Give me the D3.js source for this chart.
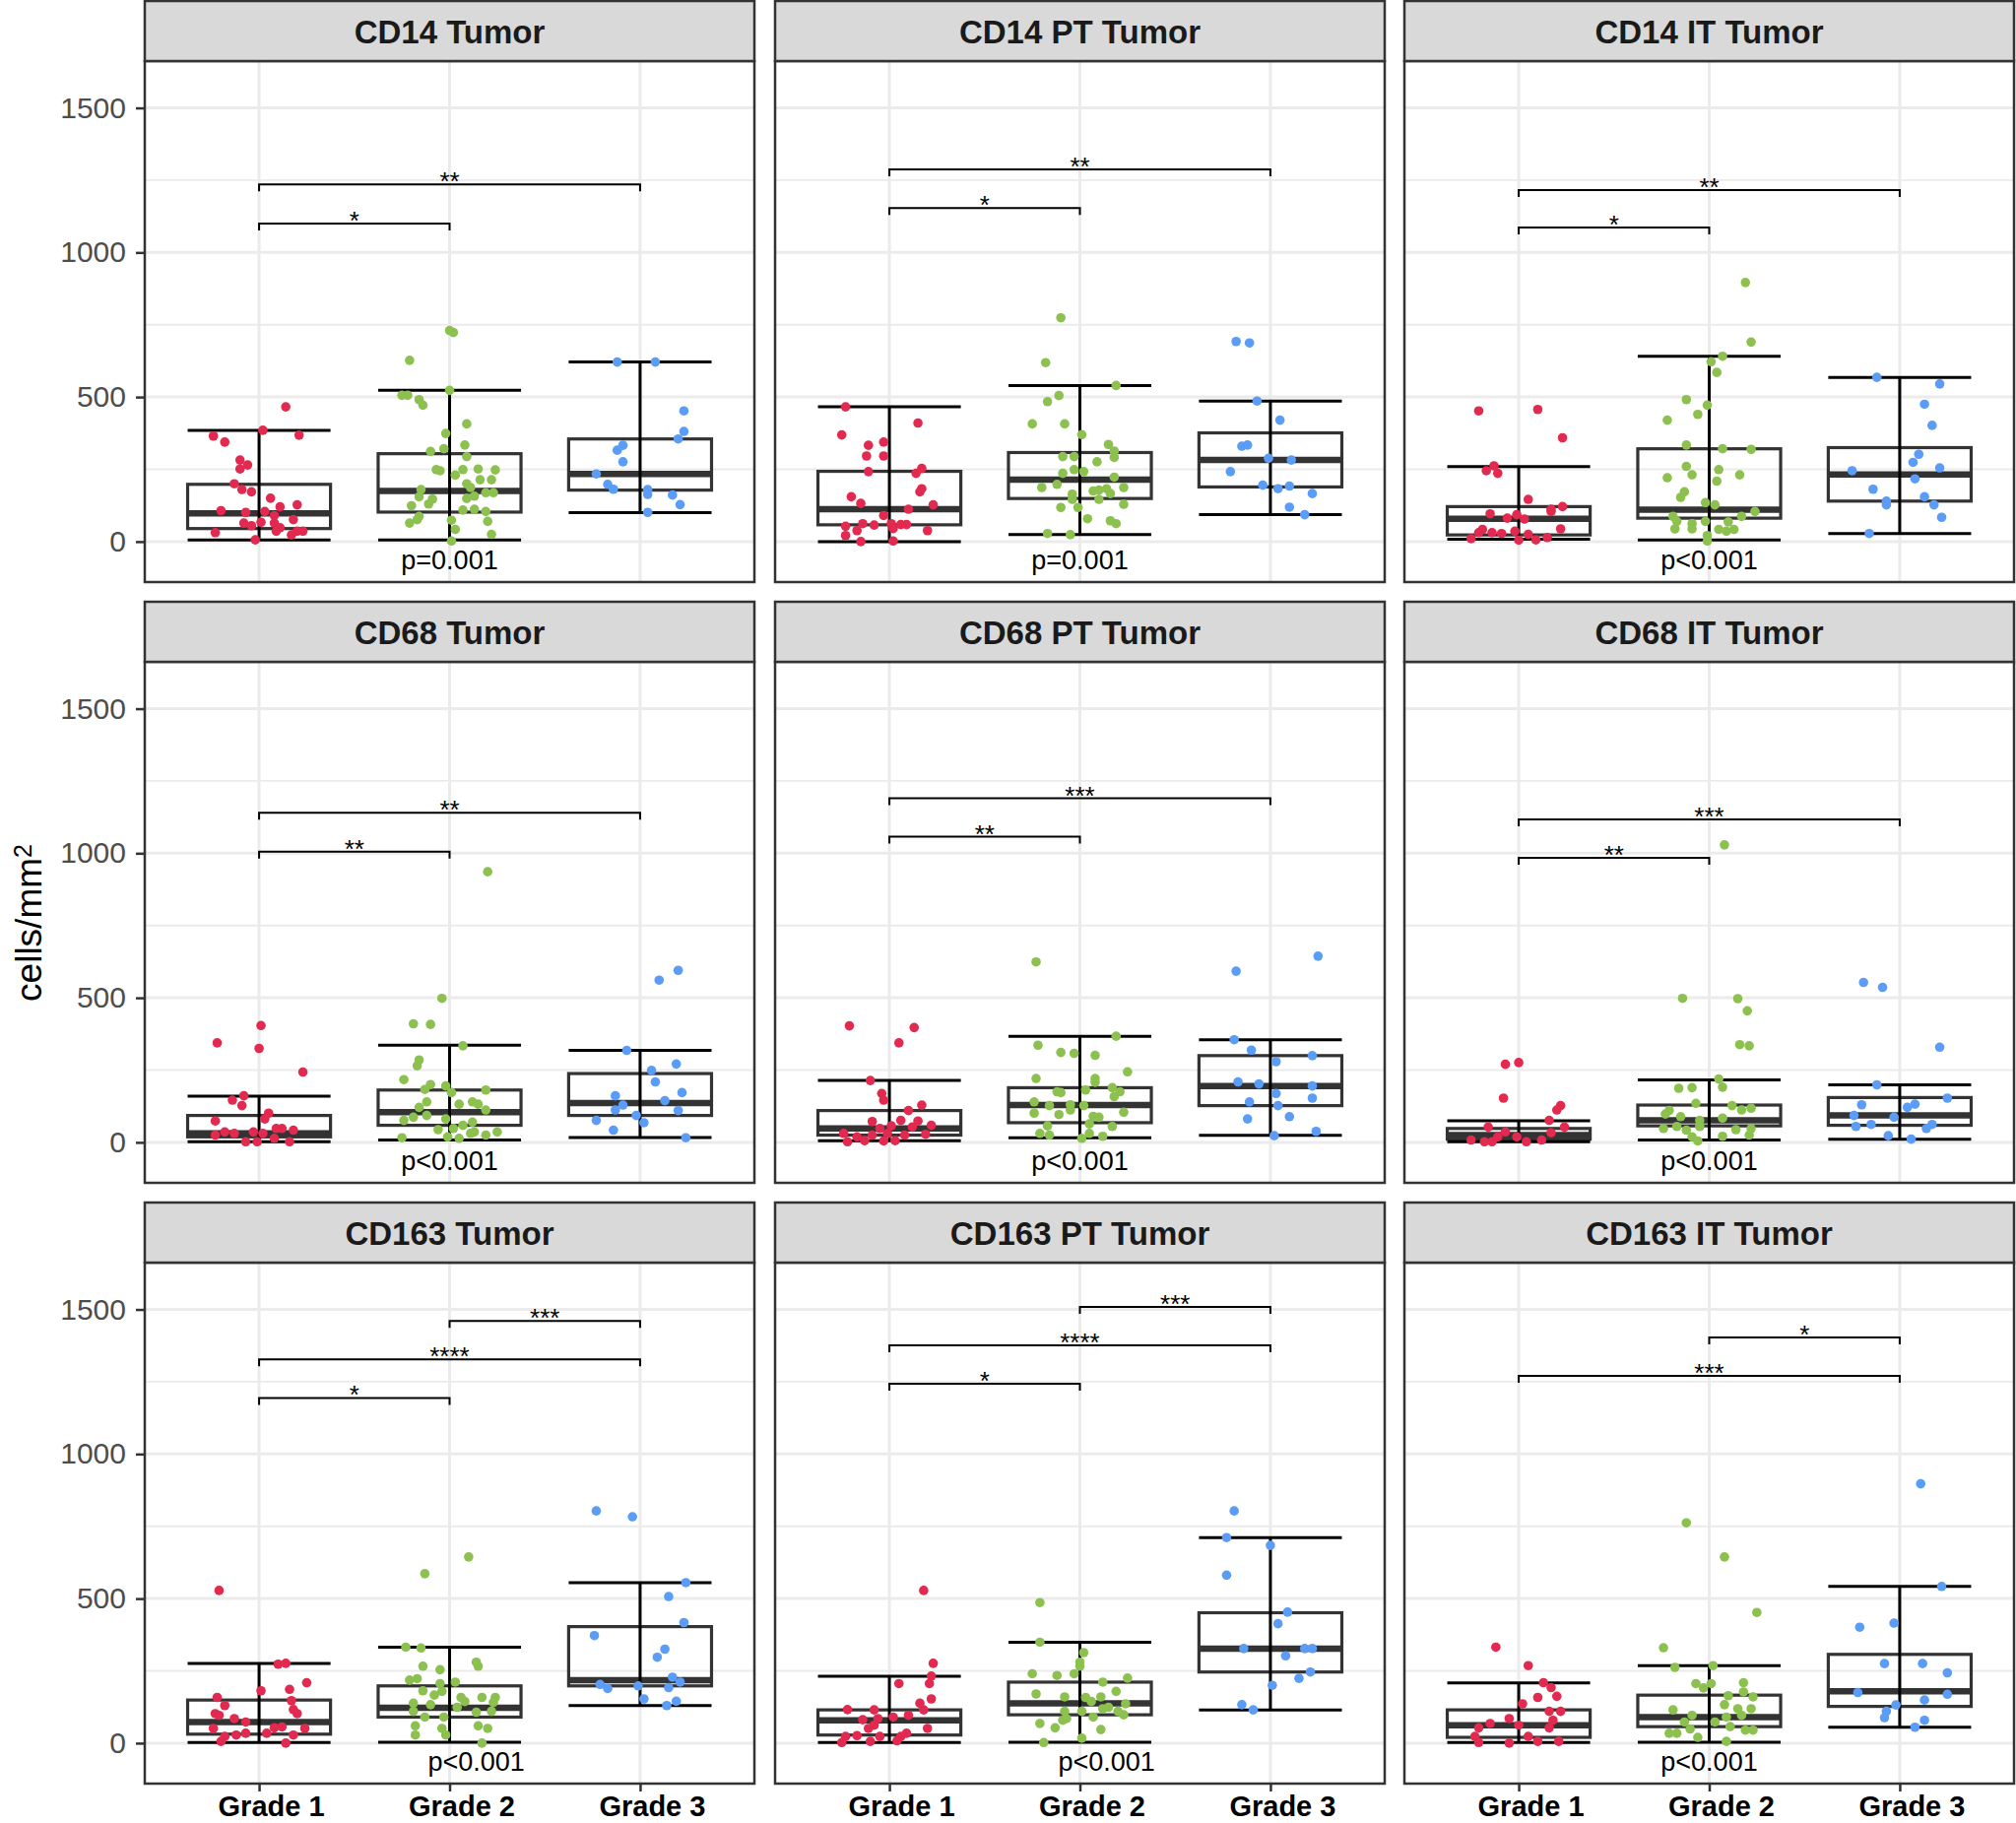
<!DOCTYPE html>
<html>
<head>
<meta charset="utf-8">
<script src="https://cdn.jsdelivr.net/npm/d3@7"></script>
<style>
  body { margin: 0; background: #fff; }
</style>
</head>
<body>
<script>
// values
var grades = ["Grade 1", "Grade 2", "Grade 3"]
var yTicks = [0, 500, 1000, 1500]
var yMinor = [250, 750, 1250]
var panelTitles = ["CD14 Tumor", "CD14 PT Tumor", "CD14 IT Tumor",
                   "CD68 Tumor", "CD68 PT Tumor", "CD68 IT Tumor",
                   "CD163 Tumor", "CD163 PT Tumor", "CD163 IT Tumor"]
var pLabels = ["p=0.001", "p=0.001", "p<0.001", "p<0.001", "p<0.001", "p<0.001", "p<0.001", "p<0.001", "p<0.001"]
var pLabelX = [2, 2, 2, 2, 2, 2, 2.14, 2.14, 2]
var pLabelY = -95

// box stats per grade: [lower whisker, q1, median, q3, upper whisker]
var boxCD14Tumor   = [[6,45,98,198,385], [6,102,175,304,523], [100,178,234,355,621]]
var boxCD14PT      = [[0,58,112,243,466], [24,149,214,308,540], [93,189,282,376,486]]
var boxCD14IT      = [[8,23,79,121,259], [6,81,110,321,641], [28,140,232,325,568]]
var boxCD68Tumor   = [[2,19,31,93,160], [8,59,104,181,336], [17,93,136,238,318]]
var boxCD68PT      = [[6,25,48,110,214], [16,68,129,189,367], [24,127,195,300,355]]
var boxCD68IT      = [[2,11,25,48,75], [8,57,76,129,216], [11,59,93,155,199]]
var boxCD163Tumor  = [[2,31,73,149,276], [3,90,122,198,332], [130,198,218,403,555]]
var boxCD163PT     = [[2,28,79,115,231], [3,98,138,211,349], [115,246,327,451,711]]
var boxCD163IT     = [[2,20,62,115,208], [3,57,90,166,268], [55,127,179,307,542]]

// significance brackets: [from grade, to grade, height, label]
var sigCD14Tumor  = [[1,2,1100,"*"], [1,3,1235,"**"]]
var sigCD14PT     = [[1,2,1154,"*"], [1,3,1287,"**"]]
var sigCD14IT     = [[1,2,1086,"*"], [1,3,1216,"**"]]
var sigCD68Tumor  = [[1,2,1005,"**"], [1,3,1140,"**"]]
var sigCD68PT     = [[1,2,1057,"**"], [1,3,1190,"***"]]
var sigCD68IT     = [[1,2,984,"**"], [1,3,1117,"***"]]
var sigCD163Tumor = [[1,2,1194,"*"], [1,3,1327,"****"], [2,3,1460,"***"]]
var sigCD163PT    = [[1,2,1243,"*"], [1,3,1376,"****"], [2,3,1509,"***"]]
var sigCD163IT    = [[1,3,1270,"***"], [2,3,1403,"*"]]

// jittered points per grade: [offset in category widths, cells/mm2]
var ptsCD14Tumor = [
  [[-0.24,365],[-0.18,344],[0.02,385],[0.21,368],[0.14,466],[-0.10,282],[-0.06,265],[-0.10,251],[-0.13,200],[-0.09,180],
   [-0.04,172],[0.06,150],[0.20,127],[0.11,120],[-0.20,107],[-0.07,101],[0.03,104],[0.08,90],[0.18,76],[-0.08,64],
   [-0.04,55],[0.01,67],[0.08,64],[0.11,48],[-0.23,31],[0.09,36],[0.20,36],[0.23,36],[0.17,23],[-0.02,6]],
  [[0.00,730],[0.02,723],[-0.21,627],[0.00,523],[-0.25,506],[-0.22,506],[-0.16,491],[-0.14,472],[0.09,407],[-0.02,374],
   [0.08,334],[-0.10,312],[-0.03,321],[0.09,294],[-0.07,249],[-0.05,245],[0.07,249],[0.15,251],[0.24,248],[0.03,230],
   [0.16,214],[0.22,214],[0.09,200],[0.11,187],[0.19,169],[0.23,169],[0.09,149],[0.13,157],[-0.15,180],[-0.16,155],
   [-0.09,147],[-0.11,130],[-0.20,124],[0.07,109],[0.13,112],[0.19,104],[-0.16,87],[-0.17,76],[-0.21,64],[0.01,74],
   [0.20,70],[0.03,42],[0.22,25],[0.01,2]],
  [[-0.12,621],[0.08,621],[0.23,452],[0.23,381],[0.20,355],[-0.09,333],[-0.12,316],[-0.09,276],[-0.23,234],[-0.17,198],
   [-0.14,181],[0.04,180],[0.04,163],[0.17,161],[0.21,128],[0.04,101]]
]
var ptsCD14PT = [
  [[-0.23,466],[0.15,410],[-0.25,369],[-0.11,333],[-0.03,344],[-0.12,296],[-0.03,296],[-0.11,242],[0.14,236],[0.17,253],
   [0.17,183],[0.16,172],[-0.20,155],[-0.15,132],[0.23,127],[0.10,112],[-0.03,90],[-0.23,53],[-0.17,38],[-0.14,62],
   [-0.08,57],[0.01,62],[0.06,59],[0.09,59],[0.20,38],[0.02,45],[-0.23,21],[-0.15,0],[0.02,2]],
  [[-0.10,774],[-0.18,619],[0.19,540],[-0.11,505],[-0.17,484],[-0.25,407],[-0.08,407],[0.01,370],[0.15,336],[0.18,313],
   [-0.09,294],[-0.03,294],[0.18,291],[0.09,276],[-0.09,236],[-0.03,249],[0.02,242],[0.18,223],[-0.12,198],[-0.20,187],
   [0.07,175],[0.10,178],[0.14,183],[0.23,187],[0.16,166],[-0.04,164],[-0.04,146],[0.10,146],[-0.10,118],[-0.01,118],
   [0.23,129],[0.04,79],[0.16,72],[0.19,62],[-0.17,28],[-0.05,24]],
  [[-0.18,692],[-0.11,687],[-0.07,486],[0.05,420],[-0.15,330],[-0.12,334],[-0.01,288],[0.11,282],[-0.21,242],[-0.04,195],
   [0.04,183],[0.10,192],[0.22,166],[0.10,119],[0.18,93]]
]
var ptsCD14IT = [
  [[-0.21,452],[0.10,457],[0.23,359],[-0.13,262],[-0.17,245],[-0.11,236],[0.05,146],[0.23,121],[0.17,112],[0.17,104],
   [-0.15,96],[-0.06,81],[-0.01,93],[0.03,78],[0.22,44],[-0.19,42],[-0.14,31],[-0.09,28],[-0.02,36],[0.05,25],
   [-0.21,31],[-0.25,10],[0.00,5],[0.09,6],[0.15,14]],
  [[0.19,896],[0.22,690],[0.07,641],[0.01,622],[0.04,585],[-0.12,491],[-0.01,472],[-0.06,440],[-0.22,420],[-0.12,334],
   [0.07,321],[0.22,319],[-0.12,260],[0.05,249],[-0.09,231],[0.16,231],[-0.22,221],[0.04,209],[-0.13,172],[-0.15,153],
   [-0.02,135],[0.03,127],[-0.19,87],[0.17,87],[0.24,104],[-0.17,70],[-0.09,62],[-0.02,70],[0.10,68],[-0.18,44],
   [-0.09,44],[0.05,42],[0.09,36],[0.13,42],[-0.01,21],[-0.01,2]],
  [[-0.12,568],[0.21,545],[0.13,475],[0.17,402],[0.10,302],[0.07,274],[0.21,255],[-0.25,245],[0.08,217],[-0.14,181],
   [-0.07,140],[-0.07,127],[0.13,155],[0.18,127],[0.22,84],[-0.16,28]]
]
var ptsCD68Tumor = [
  [[0.01,404],[-0.22,344],[0.00,325],[0.23,243],[-0.08,161],[-0.14,146],[-0.09,127],[0.05,101],[0.03,81],[-0.23,74],
   [-0.18,36],[-0.13,31],[-0.03,36],[0.09,48],[0.12,48],[0.18,42],[0.02,31],[-0.07,2],[-0.01,2],[0.16,2],
   [0.08,14],[-0.23,25]],
  [[0.20,936],[-0.04,498],[-0.19,410],[-0.10,408],[0.07,334],[-0.16,285],[-0.17,265],[-0.24,217],[-0.10,200],[-0.13,183],
   [-0.02,195],[0.19,181],[0.01,172],[-0.12,140],[0.12,140],[0.15,132],[0.05,132],[-0.16,121],[0.19,112],[-0.12,93],
   [-0.19,87],[-0.24,76],[-0.02,81],[0.07,59],[0.12,70],[-0.06,44],[0.02,48],[0.13,36],[0.19,25],[0.25,36],
   [-0.25,16],[-0.01,19],[0.05,14],[0.11,31]],
  [[0.20,595],[0.10,561],[-0.07,318],[0.19,271],[0.06,249],[0.08,209],[0.22,172],[-0.13,161],[0.13,144],[-0.09,129],
   [-0.13,112],[0.20,110],[-0.02,93],[0.02,68],[-0.23,76],[-0.14,42],[0.24,16]]
]
var ptsCD68PT = [
  [[-0.21,403],[0.13,397],[0.05,344],[-0.10,214],[-0.04,169],[-0.03,146],[0.17,129],[0.10,110],[-0.09,72],[0.06,76],
   [0.15,74],[0.22,59],[-0.05,48],[0.01,57],[0.12,53],[-0.24,31],[-0.17,19],[-0.09,25],[-0.01,31],[0.08,25],
   [0.19,28],[-0.22,2],[-0.13,6],[-0.03,5],[0.03,6]],
  [[-0.23,624],[0.19,367],[-0.22,336],[-0.10,311],[-0.03,308],[0.08,301],[0.25,244],[-0.23,221],[0.08,221],[0.08,208],
   [0.03,181],[-0.12,175],[-0.10,172],[0.17,189],[0.21,175],[0.18,158],[-0.24,140],[-0.16,127],[-0.05,130],[0.02,127],
   [-0.24,101],[-0.11,96],[-0.05,112],[0.07,90],[0.10,87],[0.05,64],[0.17,55],[0.23,104],[-0.17,57],[-0.21,31],
   [-0.16,25],[0.01,14],[0.05,31],[0.12,21]],
  [[0.25,644],[-0.18,592],[-0.19,355],[-0.10,319],[0.22,300],[0.03,279],[-0.17,209],[-0.06,202],[0.22,195],[0.03,169],
   [0.22,153],[-0.11,140],[0.04,127],[0.10,89],[-0.12,81],[0.24,38],[0.02,23]]
]
var ptsCD68IT = [
  [[0.00,276],[-0.07,270],[-0.08,153],[0.22,127],[0.20,112],[0.16,76],[-0.16,53],[0.24,53],[-0.07,36],[0.17,33],
   [-0.25,8],[-0.18,2],[-0.14,2],[0.04,2],[0.12,8],[-0.01,19],[-0.11,19]],
  [[0.08,1029],[-0.14,498],[0.15,497],[0.20,455],[0.16,338],[0.21,334],[0.05,219],[0.07,191],[-0.16,187],[-0.09,189],
   [-0.07,135],[0.12,127],[0.17,112],[0.22,118],[-0.21,110],[-0.15,89],[-0.23,98],[0.07,84],[-0.05,76],[-0.24,48],
   [-0.17,55],[-0.12,42],[-0.05,55],[0.14,44],[0.22,48],[0.21,25],[-0.09,19],[-0.06,5],[0.07,21]],
  [[-0.19,553],[-0.09,536],[0.21,329],[-0.12,199],[0.25,153],[-0.20,130],[0.04,121],[0.08,132],[-0.24,93],[-0.03,87],
   [-0.15,62],[-0.23,55],[0.17,62],[0.14,48],[-0.06,23],[0.06,11]]
]
var ptsCD163Tumor = [
  [[-0.21,528],[0.10,273],[0.14,276],[0.25,209],[0.01,181],[0.16,186],[-0.22,158],[0.17,147],[-0.18,130],[0.18,116],
   [0.20,102],[-0.23,102],[-0.13,85],[-0.21,96],[-0.07,73],[-0.24,51],[0.08,53],[0.12,56],[0.24,51],[-0.18,23],
   [-0.12,28],[-0.07,34],[0.04,34],[0.18,28],[-0.20,6],[0.14,0]],
  [[0.10,644],[-0.13,586],[-0.23,332],[-0.15,329],[0.14,280],[0.15,266],[-0.14,266],[-0.05,254],[-0.17,223],[-0.21,218],
   [0.03,211],[-0.05,206],[-0.14,181],[-0.04,179],[-0.08,166],[0.17,158],[0.24,158],[0.06,158],[0.08,144],[0.23,141],
   [-0.19,138],[-0.10,133],[0.04,124],[-0.19,110],[0.14,107],[-0.03,90],[-0.13,90],[0.22,110],[-0.18,60],[-0.04,51],
   [0.15,60],[0.20,51],[-0.18,28],[-0.02,28],[0.17,0]],
  [[-0.23,803],[-0.04,783],[0.24,555],[0.15,507],[0.23,417],[-0.24,372],[0.13,325],[0.09,297],[0.17,228],[-0.21,203],
   [-0.17,189],[-0.01,198],[0.15,192],[0.21,211],[0.02,153],[0.19,145],[0.14,130]]
]
var ptsCD163PT = [
  [[0.18,528],[0.23,276],[0.22,232],[0.05,206],[0.21,206],[0.22,153],[0.16,138],[0.18,115],[-0.22,116],[-0.08,115],
   [-0.14,81],[-0.06,85],[0.02,90],[0.10,96],[-0.11,51],[0.20,51],[-0.08,62],[-0.23,23],[-0.17,26],[-0.05,23],
   [0.06,23],[0.09,34],[-0.25,2],[-0.10,6],[0.04,8]],
  [[-0.21,486],[-0.21,349],[0.02,313],[0.00,280],[0.00,266],[-0.25,240],[-0.12,234],[-0.03,240],[0.25,225],[0.12,211],
   [0.19,179],[-0.23,170],[-0.08,160],[0.03,158],[0.11,160],[0.06,144],[0.24,136],[0.15,124],[0.20,110],[0.23,98],
   [0.12,119],[-0.08,110],[0.01,110],[0.07,90],[-0.09,79],[-0.07,85],[-0.21,68],[-0.13,53],[0.11,47],[0.01,17],
   [-0.19,2]],
  [[-0.19,803],[-0.23,711],[0.00,684],[-0.23,581],[0.09,453],[0.04,413],[-0.14,327],[0.18,327],[0.22,327],[0.08,302],
   [0.21,246],[0.15,224],[0.01,200],[-0.15,133],[-0.09,115]]
]
var ptsCD163IT = [
  [[-0.12,332],[0.05,268],[0.13,209],[0.17,192],[0.10,158],[0.20,162],[0.02,136],[0.16,110],[0.22,110],[-0.05,85],
   [0.18,79],[-0.15,68],[0.00,62],[-0.21,53],[0.16,53],[-0.23,23],[0.05,23],[0.10,6],[-0.21,2],[-0.05,0],
   [0.21,6]],
  [[-0.12,762],[0.08,644],[0.25,452],[-0.24,330],[-0.18,262],[0.02,268],[-0.07,206],[0.01,206],[0.18,209],[-0.03,191],
   [0.18,177],[0.23,160],[0.10,164],[0.08,133],[0.15,119],[0.22,119],[-0.19,115],[-0.09,96],[0.09,90],[0.17,96],
   [-0.13,73],[0.03,73],[0.11,57],[-0.10,49],[0.19,45],[0.23,45],[-0.21,34],[-0.17,34],[-0.06,20],[0.09,6]],
  [[0.11,897],[0.22,542],[-0.21,401],[-0.03,415],[-0.08,275],[0.12,275],[0.25,243],[-0.22,175],[0.25,169],[0.13,149],
   [-0.02,132],[-0.07,110],[-0.08,88],[0.13,79],[0.08,55]]
]

var panelPts = [ptsCD14Tumor, ptsCD14PT, ptsCD14IT, ptsCD68Tumor, ptsCD68PT, ptsCD68IT, ptsCD163Tumor, ptsCD163PT, ptsCD163IT]
var panelBox = [boxCD14Tumor, boxCD14PT, boxCD14IT, boxCD68Tumor, boxCD68PT, boxCD68IT, boxCD163Tumor, boxCD163PT, boxCD163IT]
var panelSig = [sigCD14Tumor, sigCD14PT, sigCD14IT, sigCD68Tumor, sigCD68PT, sigCD68IT, sigCD163Tumor, sigCD163PT, sigCD163IT]

var gradeColors = ["#E2294F", "#8DC14F", "#5A9CF6"]

var W = 2047, H = 1851
var colX = [147, 787, 1426], panelW = 619
var rowY = [1, 611, 1221], stripH = 61, plotH = 529
var yDomain = [-140, 1662]
var font = "'Liberation Sans', Arial, Helvetica, sans-serif"

var svg = d3.select("body").append("svg")
            .attr("width", W)
            .attr("height", H)
            .style("font-family", font)

panelTitles.forEach(function(title, i) {
  var col = i % 3, row = Math.floor(i / 3)
  var x0 = colX[col], top = rowY[row] + stripH
  var x = d3.scalePoint().domain(grades).range([x0, x0 + panelW]).padding(0.6)
  var step = x.step()
  var bw = step * 0.75
  var y = d3.scaleLinear().domain(yDomain).range([top + plotH, top])
  var g = svg.append("g")

  // grid
  g.selectAll(".minor").data(yMinor).join("line")
    .attr("x1", x0).attr("x2", x0 + panelW)
    .attr("y1", d => y(d)).attr("y2", d => y(d))
    .attr("stroke", "#EBEBEB").attr("stroke-width", 1.8)
  g.selectAll(".major").data(yTicks).join("line")
    .attr("x1", x0).attr("x2", x0 + panelW)
    .attr("y1", d => y(d)).attr("y2", d => y(d))
    .attr("stroke", "#EBEBEB").attr("stroke-width", 3)
  g.selectAll(".vgrid").data(grades).join("line")
    .attr("x1", d => x(d)).attr("x2", d => x(d))
    .attr("y1", top).attr("y2", top + plotH)
    .attr("stroke", "#EBEBEB").attr("stroke-width", 3)

  // boxes and whiskers
  panelBox[i].forEach(function(b, k) {
    var cx = x(grades[k])
    g.append("rect")
      .attr("x", cx - bw / 2).attr("y", y(b[3]))
      .attr("width", bw).attr("height", y(b[1]) - y(b[3]))
      .attr("fill", "none").attr("stroke", "#333333").attr("stroke-width", 3.2)
    g.append("line")
      .attr("x1", cx - bw / 2).attr("x2", cx + bw / 2)
      .attr("y1", y(b[2])).attr("y2", y(b[2]))
      .attr("stroke", "#333333").attr("stroke-width", 6.5)
    g.append("line")
      .attr("x1", cx).attr("x2", cx)
      .attr("y1", y(b[0])).attr("y2", y(b[4]))
      .attr("stroke", "#000").attr("stroke-width", 3)
    ;[b[0], b[4]].forEach(function(v) {
      g.append("line")
        .attr("x1", cx - bw / 2).attr("x2", cx + bw / 2)
        .attr("y1", y(v)).attr("y2", y(v))
        .attr("stroke", "#000").attr("stroke-width", 3)
    })
  })

  // jittered points
  panelPts[i].forEach(function(pts, k) {
    g.selectAll(".pt" + k).data(pts).join("circle")
      .attr("cx", d => x(grades[k]) + d[0] * step)
      .attr("cy", d => y(d[1]))
      .attr("r", 4.8)
      .attr("fill", gradeColors[k])
  })

  // significance brackets
  panelSig[i].forEach(function(s) {
    var xa = x(grades[s[0] - 1]), xb = x(grades[s[1] - 1]), yy = y(s[2])
    g.append("path")
      .attr("d", "M" + xa + "," + (yy + 7) + "V" + yy + "H" + xb + "V" + (yy + 7))
      .attr("fill", "none").attr("stroke", "#000").attr("stroke-width", 2)
    g.append("text")
      .attr("x", (xa + xb) / 2).attr("y", yy + 6)
      .attr("text-anchor", "middle")
      .attr("font-size", 26)
      .attr("fill", "#000")
      .text(s[3])
  })

  g.append("text")
    .attr("x", x(grades[1]) + (pLabelX[i] - 2) * step)
    .attr("y", y(pLabelY))
    .attr("text-anchor", "middle")
    .attr("font-size", 27)
    .attr("fill", "#000")
    .text(pLabels[i])

  // panel frame and strip
  g.append("rect")
    .attr("x", x0).attr("y", top).attr("width", panelW).attr("height", plotH)
    .attr("fill", "none").attr("stroke", "#333333").attr("stroke-width", 2.5)
  g.append("rect")
    .attr("x", x0).attr("y", rowY[row]).attr("width", panelW).attr("height", stripH)
    .attr("fill", "#D9D9D9").attr("stroke", "#333333").attr("stroke-width", 2.5)
  g.append("text")
    .attr("x", x0 + panelW / 2).attr("y", rowY[row] + 43)
    .attr("text-anchor", "middle")
    .attr("font-size", 33).attr("font-weight", "bold")
    .attr("fill", "#1A1A1A")
    .text(title)

  if (col == 0) {
    var ya = g.append("g").attr("transform", "translate(" + x0 + ",0)")
              .call(d3.axisLeft(y).tickValues(yTicks).tickFormat(d3.format("d")).tickSize(9).tickPadding(10))
    ya.select(".domain").remove()
    ya.selectAll(".tick line").attr("stroke", "#333333").attr("stroke-width", 2.5)
    ya.selectAll(".tick text").attr("font-size", 30).attr("fill", "#4D4D4D")
      .attr("font-family", font)
  }
  if (row == 2) {
    var xa = g.append("g").attr("transform", "translate(0," + (top + plotH) + ")")
              .call(d3.axisBottom(x).tickSize(8).tickPadding(4))
    xa.select(".domain").remove()
    xa.selectAll(".tick line").attr("stroke", "#333333").attr("stroke-width", 2.5)
    xa.selectAll(".tick text").attr("font-size", 29).attr("font-weight", "bold").attr("fill", "#000")
      .attr("font-family", font).attr("dx", 12)
  }
})

// y axis title
var yt = svg.append("text")
            .attr("transform", "translate(42,937) rotate(-90)")
            .attr("text-anchor", "middle")
            .attr("font-size", 37)
            .attr("fill", "#000")
yt.append("tspan").text("cells/mm")
yt.append("tspan").attr("font-size", 25).attr("dy", -10).text("2")
</script>
</body>
</html>
